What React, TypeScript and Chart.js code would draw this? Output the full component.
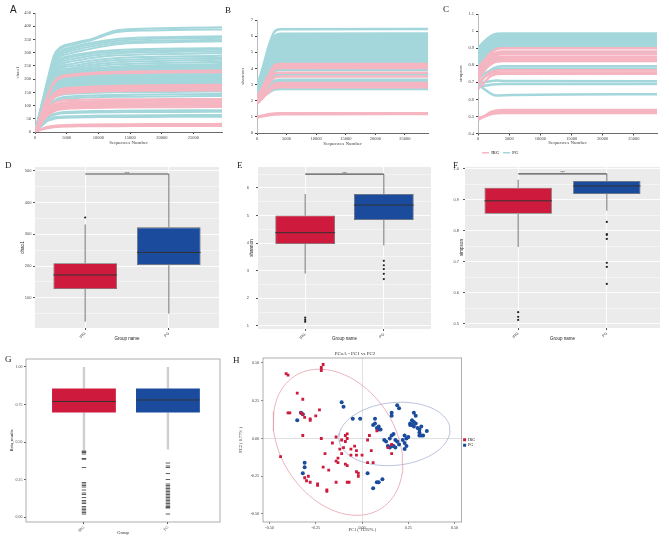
import React, { useEffect, useRef } from "react";
import { Chart, registerables } from "chart.js";
Chart.register(...registerables);

const SERIF = "'Liberation Serif', 'DejaVu Serif', serif";
const SANS = "'Liberation Sans', 'DejaVu Sans', sans-serif";
const PINK = "#F5B5C1";
const TEAL = "#A4D7DB";
const RED = "#CE1B3D";
const BLUE = "#1A4B9D";
const GROUPS = ["IRG", "PG"];

// ---------- A : chao1 rarefaction ----------
const A_DEPTH = [0, 1000, 2000, 3000, 4000, 6000, 9000, 13000, 18000, 24000, 29500];
const A_X_TICKS = [0, 5000, 10000, 15000, 20000, 25000];
const A_Y_TICKS = [0, 50, 100, 150, 200, 250, 300, 350, 400, 450];
const A_PG = [
  [0, 100, 200, 290, 320, 336, 352, 385, 391, 394, 396],
  [0, 98, 195, 283, 314, 330, 348, 378, 384, 387, 388],
  [0, 96, 190, 275, 305, 322, 338, 352, 358, 360, 362],
  [0, 94, 186, 268, 298, 316, 332, 345, 352, 355, 356],
  [0, 92, 182, 262, 292, 308, 324, 338, 344, 347, 348],
  [0, 90, 178, 256, 285, 300, 316, 332, 338, 341, 343],
  [0, 88, 174, 248, 276, 290, 302, 310, 314, 316, 317],
  [0, 86, 170, 242, 270, 284, 296, 304, 308, 310, 311],
  [0, 84, 166, 236, 262, 276, 288, 298, 302, 304, 305],
  [0, 82, 162, 228, 254, 268, 280, 290, 294, 296, 298],
  [0, 80, 158, 222, 246, 258, 270, 280, 284, 286, 288],
  [0, 78, 154, 216, 240, 250, 262, 272, 276, 279, 280],
  [0, 76, 150, 210, 232, 242, 254, 264, 268, 271, 273],
  [0, 74, 146, 204, 226, 236, 247, 256, 260, 263, 265],
  [0, 45, 90, 118, 130, 135, 138, 140, 142, 143, 144],
  [0, 42, 85, 112, 124, 128, 131, 133, 134, 135, 136],
  [0, 30, 55, 68, 74, 77, 79, 80, 81, 82, 82],
  [0, 28, 52, 64, 70, 72, 74, 75, 76, 76, 77],
  [0, 25, 45, 55, 58, 60, 61, 62, 63, 64, 64],
  [0, 22, 42, 50, 53, 55, 56, 57, 57, 58, 58],
];
const A_PG_BAND_HIGH = [0, 72, 142, 198, 220, 230, 240, 248, 252, 255, 257];
const A_PG_BAND_LOW = [0, 50, 100, 130, 140, 145, 148, 150, 151, 152, 153];
const A_IRG = [
  [0, 70, 140, 190, 210, 218, 224, 228, 230, 232, 233],
  [0, 68, 135, 184, 204, 212, 218, 222, 224, 226, 226],
  [0, 60, 115, 148, 162, 168, 172, 175, 177, 178, 179],
  [0, 58, 112, 144, 158, 164, 168, 171, 172, 173, 174],
  [0, 56, 108, 140, 153, 159, 163, 166, 167, 168, 168],
  [0, 54, 104, 135, 147, 153, 157, 160, 161, 162, 162],
  [0, 52, 100, 130, 142, 148, 152, 155, 156, 157, 157],
  [0, 45, 88, 110, 118, 121, 123, 124, 124, 125, 125],
  [0, 42, 82, 102, 110, 114, 116, 118, 119, 120, 120],
  [0, 40, 78, 97, 105, 109, 111, 113, 114, 115, 115],
  [0, 38, 74, 93, 100, 104, 106, 108, 109, 110, 110],
  [0, 36, 70, 88, 95, 99, 101, 103, 104, 105, 105],
  [0, 34, 66, 83, 90, 94, 96, 98, 99, 100, 100],
  [0, 32, 62, 78, 85, 89, 91, 93, 94, 94, 95],
  [0, 12, 20, 24, 26, 27, 28, 29, 30, 30, 31],
  [0, 10, 17, 21, 23, 24, 25, 26, 26, 27, 27],
  [0, 8, 14, 18, 20, 21, 22, 22, 23, 23, 23],
];

// ---------- B : shannon rarefaction ----------
const B_DEPTH = [0, 1000, 2000, 3000, 4000, 28900];
const B_X_TICKS = [0, 5000, 10000, 15000, 20000, 25000];
const B_Y_TICKS = [0, 1, 2, 3, 4, 5, 6, 7];
const B_PG = [
  [2.9, 4.1, 5.4, 6.3, 6.42, 6.45],
  [2.2, 2.8, 3.4, 3.85, 3.9, 3.91],
  [2.2, 2.7, 3.2, 3.58, 3.62, 3.62],
  [2.3, 2.6, 2.95, 3.25, 3.3, 3.3],
  [2.1, 2.5, 2.85, 3.15, 3.2, 3.2],
  [2.2, 2.4, 2.65, 2.87, 2.9, 2.9],
  [2.0, 2.25, 2.5, 2.7, 2.72, 2.72],
];
const B_PG_BAND_HIGH = [2.8, 3.9, 5.1, 6.0, 6.15, 6.17];
const B_PG_BAND_LOW = [2.4, 3.1, 3.8, 4.26, 4.32, 4.32];
const B_IRG = [
  [2.2, 2.9, 3.6, 4.2, 4.27, 4.28],
  [2.1, 2.8, 3.5, 4.08, 4.14, 4.15],
  [2.0, 2.7, 3.4, 3.96, 4.02, 4.03],
  [2.1, 2.7, 3.3, 3.7, 3.74, 3.74],
  [2.0, 2.5, 3.05, 3.45, 3.5, 3.5],
  [1.9, 2.3, 2.7, 3.05, 3.09, 3.09],
  [1.8, 2.2, 2.6, 2.93, 2.98, 2.98],
  [1.85, 2.2, 2.55, 2.8, 2.84, 2.84],
  [1.0, 1.08, 1.16, 1.21, 1.22, 1.23],
  [0.97, 1.04, 1.1, 1.15, 1.16, 1.17],
];

// ---------- C : simpson rarefaction ----------
const C_DEPTH = [0, 1000, 2000, 3000, 4000, 28700];
const C_X_TICKS = [0, 5000, 10000, 15000, 20000, 25000];
const C_Y_TICKS = [0.4, 0.5, 0.6, 0.7, 0.8, 0.9, 1, 1.1];
const C_PG = [
  [0.76, 0.81, 0.85, 0.868, 0.87, 0.87],
  [0.75, 0.79, 0.82, 0.838, 0.84, 0.84],
  [0.68, 0.73, 0.77, 0.79, 0.794, 0.794],
  [0.72, 0.75, 0.77, 0.778, 0.78, 0.78],
  [0.69, 0.7, 0.706, 0.71, 0.708, 0.706],
  [0.67, 0.68, 0.685, 0.688, 0.69, 0.69],
  [0.69, 0.66, 0.635, 0.622, 0.624, 0.63],
];
const C_PG_BAND_HIGH = [0.9, 0.94, 0.97, 0.985, 0.986, 0.986];
const C_PG_BAND_LOW = [0.8, 0.84, 0.88, 0.905, 0.908, 0.908];
const C_IRG = [
  [0.78, 0.83, 0.87, 0.895, 0.9, 0.9],
  [0.76, 0.81, 0.855, 0.875, 0.88, 0.88],
  [0.75, 0.8, 0.84, 0.86, 0.865, 0.865],
  [0.74, 0.79, 0.83, 0.848, 0.85, 0.85],
  [0.73, 0.78, 0.815, 0.832, 0.835, 0.835],
  [0.72, 0.77, 0.805, 0.822, 0.825, 0.825],
  [0.69, 0.73, 0.76, 0.768, 0.77, 0.77],
  [0.7, 0.73, 0.75, 0.756, 0.758, 0.758],
  [0.66, 0.7, 0.735, 0.748, 0.75, 0.75],
  [0.48, 0.5, 0.525, 0.535, 0.537, 0.538],
  [0.485, 0.5, 0.515, 0.525, 0.527, 0.527],
  [0.49, 0.5, 0.512, 0.518, 0.52, 0.52],
];

// ---------- D/E/F : alpha boxplots  [lower whisker, Q1, median, Q3, upper whisker] ----------
const D_IRG_STATS = [25, 128, 172, 209, 331];
const D_PG_STATS = [50, 203, 243, 322, 490];
const D_IRG_OUT = [353];
const D_PG_OUT: number[] = [];
const D_SIG = 490;
const D_Y_TICKS = [50, 100, 150, 200, 250, 300, 350, 400, 450, 500];

const E_IRG_STATS = [2.9, 3.97, 4.38, 5.0, 5.78];
const E_PG_STATS = [3.92, 4.84, 5.38, 5.78, 6.5];
const E_IRG_OUT = [1.3, 1.22, 1.15];
const E_PG_OUT = [3.36, 3.2, 3.06, 2.89, 2.7];
const E_SIG = 6.5;
const E_Y_TICKS = [1, 1.5, 2, 2.5, 3, 3.5, 4, 4.5, 5, 5.5, 6, 6.5];

const F_IRG_STATS = [0.748, 0.855, 0.897, 0.939, 0.965];
const F_PG_STATS = [0.865, 0.919, 0.945, 0.961, 0.984];
const F_IRG_OUT = [0.538, 0.523, 0.513];
const F_PG_OUT = [0.829, 0.79, 0.787, 0.774, 0.697, 0.684, 0.629];
const F_SIG = 0.984;
const F_Y_TICKS = [0.5, 0.55, 0.6, 0.65, 0.7, 0.75, 0.8, 0.85, 0.9, 0.95, 1.0];

// ---------- G : beta boxplot ----------
const G_IRG_STATS = [0.447, 0.697, 0.77, 0.856, 1.0];
const G_PG_STATS = [0.45, 0.697, 0.78, 0.856, 1.0];
const G_IRG_OUT = [0.44, 0.435, 0.43, 0.42, 0.39, 0.385, 0.33, 0.23, 0.22, 0.21, 0.2, 0.18, 0.16, 0.15, 0.13, 0.11, 0.1, 0.09, 0.07, 0.06, 0.05, 0.04, 0.03, 0.02];
const G_PG_OUT = [0.36, 0.34, 0.33, 0.29, 0.25, 0.22, 0.21, 0.2, 0.19, 0.18, 0.17, 0.16, 0.15, 0.14, 0.13, 0.12, 0.11, 0.1, 0.09, 0.08, 0.07, 0.065, 0.06, 0.02];
const G_Y_TICKS = [0, 0.25, 0.5, 0.75, 1.0];

// ---------- H : PCoA ----------
const H_TICKS = [-0.5, -0.25, 0, 0.25, 0.5];
const H_IRG: [number, number][] = [
  [-0.41, 0.43], [-0.4, 0.42], [-0.22, 0.45], [-0.22, 0.47], [-0.21, 0.49], [-0.35, 0.3], [-0.32, 0.26],
  [-0.4, 0.17], [-0.39, 0.17], [-0.33, 0.17], [-0.32, 0.16], [-0.31, 0.14], [-0.28, 0.13], [-0.28, 0.12],
  [-0.25, 0.15], [-0.23, 0.19], [-0.32, 0.02], [-0.22, 0.0], [-0.44, -0.12], [-0.2, -0.1], [-0.18, -0.21],
  [-0.21, -0.19], [-0.14, 0.01], [-0.16, -0.03], [-0.11, -0.01], [-0.09, 0.02], [-0.08, 0.03], [-0.08, 0.0],
  [-0.09, -0.02], [-0.12, -0.07], [-0.11, -0.1], [-0.13, -0.13], [-0.14, -0.15], [-0.13, -0.16], [-0.09, -0.17],
  [-0.08, -0.18], [-0.06, -0.07], [-0.04, -0.05], [-0.03, -0.08], [-0.06, -0.11], [0.0, -0.11], [-0.08, -0.29],
  [-0.07, -0.29], [-0.14, -0.29], [-0.31, -0.26], [-0.3, -0.28], [-0.29, -0.25], [-0.28, -0.29], [-0.24, -0.31],
  [-0.24, -0.3], [-0.19, -0.34], [-0.19, -0.35], [-0.03, -0.22], [-0.02, -0.23], [-0.02, -0.25], [0.03, -0.01],
  [0.04, 0.02], [0.05, -0.08], [0.06, -0.16], [0.03, -0.16], [0.14, -0.06], [0.16, -0.1], [0.16, -0.04],
  [0.08, 0.05], [-0.1, -0.06], [-0.03, -0.11],
];
const H_PG: [number, number][] = [
  [-0.11, 0.24], [-0.1, 0.21], [-0.33, 0.17], [-0.32, 0.16], [-0.35, 0.12], [-0.05, 0.13], [-0.01, 0.13],
  [0.07, 0.13], [0.07, 0.1], [0.06, 0.09], [0.08, 0.07], [0.09, 0.08], [0.09, 0.06], [0.1, 0.06],
  [0.16, 0.17], [0.16, 0.15], [0.19, 0.22], [0.2, 0.2], [0.12, -0.01], [0.13, -0.02], [0.15, 0.0],
  [0.16, 0.02], [0.17, 0.03], [0.18, -0.01], [0.19, -0.02], [0.14, -0.05], [0.15, -0.06], [0.16, -0.05],
  [0.17, -0.05], [0.18, -0.06], [0.2, -0.04], [0.22, -0.01], [0.23, 0.02], [0.24, 0.0], [0.25, 0.01],
  [0.23, -0.03], [0.24, -0.05], [0.23, -0.07], [0.26, 0.1], [0.26, 0.09], [0.27, 0.12], [0.28, 0.11],
  [0.27, 0.09], [0.28, 0.08], [0.29, 0.1], [0.28, 0.17], [0.29, 0.15], [0.3, 0.07], [0.31, 0.06],
  [0.32, 0.08], [0.31, 0.04], [0.32, 0.02], [0.33, 0.02], [0.31, 0.02], [0.35, 0.05], [-0.31, -0.16],
  [-0.31, -0.19], [-0.32, -0.23], [0.03, -0.23], [0.06, -0.33], [0.08, -0.29], [0.09, -0.29], [0.11, -0.27],
];
// confidence ellipse: [centre PC1, centre PC2, sd PC1, sd PC2, correlation]
const H_IRG_ELLIPSE = [-0.13, -0.025, 0.35, 0.484, -0.29];
const H_PG_ELLIPSE = [0.175, 0.03, 0.3, 0.21, 0.12];

// ---------------------------------------------------------------------------
const BOX_FRAC = 0.76;

function rareConfig(o: any) {
  const pts = (vals: number[]) => vals.map((v, i) => ({ x: o.depth[i], y: v }));
  const line = (vals: number[], color: string) => ({
    data: pts(vals),
    borderColor: color,
    backgroundColor: color,
    borderWidth: o.lineWidth,
    pointRadius: 0,
    fill: false,
    cubicInterpolationMode: "monotone",
  });
  const datasets: any[] = [
    ...o.irg.map((v: number[]) => line(v, PINK)),
    ...o.pg.map((v: number[]) => line(v, TEAL)),
    { ...line(o.bandHigh, TEAL), fill: "+1" },
    line(o.bandLow, TEAL),
  ];
  const tickFont = { size: 4.5, family: SERIF };
  return {
    type: "line",
    data: { datasets },
    options: {
      animation: false,
      responsive: false,
      devicePixelRatio: 1,
      events: [],
      layout: { padding: o.padding },
      plugins: {
        tooltip: { enabled: false },
        legend: o.legend
          ? {
              display: true,
              position: "bottom",
              align: "start",
              fullSize: false,
              onClick: () => {},
              labels: {
                boxWidth: 7,
                boxHeight: 1.5,
                padding: 4,
                color: "#444",
                font: { size: 4.5, family: SERIF },
                generateLabels: () => [
                  { text: "IRG", fillStyle: PINK, strokeStyle: PINK, lineWidth: 0, hidden: false, datasetIndex: 0 },
                  { text: "PG", fillStyle: TEAL, strokeStyle: TEAL, lineWidth: 0, hidden: false, datasetIndex: 1 },
                ],
              },
            }
          : { display: false },
      },
      scales: {
        x: {
          type: "linear",
          min: 0,
          max: o.xMax,
          afterBuildTicks: (ax: any) => {
            ax.ticks = o.xTicks.map((v: number) => ({ value: v }));
          },
          afterFit: (ax: any) => {
            ax.height = o.xH;
          },
          grid: { drawOnChartArea: false, drawTicks: true, tickLength: 2, tickColor: "#444" },
          border: { display: true, color: "#444", width: 0.8 },
          ticks: { font: tickFont, color: "#444", padding: 1, maxRotation: 0, autoSkip: false, callback: (v: number) => String(v) },
          title: { display: true, text: "Sequences Number", color: "#444", font: { size: 5, family: SERIF }, padding: { top: 0, bottom: o.xTitlePad } },
        },
        y: {
          type: "linear",
          min: o.yMin,
          max: o.yMax,
          afterBuildTicks: (ax: any) => {
            ax.ticks = o.yTicks.map((v: number) => ({ value: v }));
          },
          afterFit: (ax: any) => {
            ax.width = o.yW;
          },
          grid: { drawOnChartArea: false, drawTicks: true, tickLength: 2, tickColor: "#444" },
          border: { display: true, color: "#aaa", width: 0.8, dash: [2, 2] },
          ticks: { font: tickFont, color: "#444", padding: 2, autoSkip: false, callback: (v: number) => String(v) },
          title: { display: true, text: o.yTitle, color: "#444", font: { size: 5, family: SERIF }, padding: { top: o.yTitlePad, bottom: 0 } },
        },
      },
    },
  };
}

const isMajor = (v: number, step: number) => Math.abs(v / step - Math.round(v / step)) < 1e-6;

function boxConfig(o: any) {
  const stats = [o.irgStats, o.pgStats];
  const boxData = stats.map((s: number[], i: number) => ({ x: i + 1, y: [s[1], s[3]] }));
  const outData = [o.irgOut, o.pgOut].flatMap((arr: number[], i: number) => arr.map((v) => ({ x: i + 1, y: v })));
  const half = BOX_FRAC / 2;
  const plugin = {
    id: "boxExtras",
    beforeDraw(chart: any) {
      const { ctx, chartArea: a } = chart;
      ctx.save();
      if (o.panelBg) {
        ctx.fillStyle = o.panelBg;
        ctx.fillRect(a.left, a.top, a.width, a.height);
      }
      ctx.restore();
    },
    beforeDatasetsDraw(chart: any) {
      const { ctx, scales } = chart;
      ctx.save();
      ctx.strokeStyle = o.whiskerColor;
      ctx.lineWidth = o.whiskerWidth;
      stats.forEach((s: number[], i: number) => {
        const x = scales.x.getPixelForValue(i + 1);
        ctx.beginPath();
        ctx.moveTo(x, scales.y.getPixelForValue(s[0]));
        ctx.lineTo(x, scales.y.getPixelForValue(s[1]));
        ctx.moveTo(x, scales.y.getPixelForValue(s[3]));
        ctx.lineTo(x, scales.y.getPixelForValue(s[4]));
        ctx.stroke();
      });
      ctx.restore();
    },
    afterDatasetsDraw(chart: any) {
      const { ctx, scales, chartArea: a } = chart;
      ctx.save();
      ctx.strokeStyle = "#333";
      ctx.lineWidth = 1;
      stats.forEach((s: number[], i: number) => {
        const y = scales.y.getPixelForValue(s[2]);
        ctx.beginPath();
        ctx.moveTo(scales.x.getPixelForValue(i + 1 - half), y);
        ctx.lineTo(scales.x.getPixelForValue(i + 1 + half), y);
        ctx.stroke();
      });
      if (o.sig !== undefined) {
        const y = scales.y.getPixelForValue(o.sig);
        ctx.strokeStyle = "#555";
        ctx.lineWidth = 1.2;
        ctx.beginPath();
        ctx.moveTo(scales.x.getPixelForValue(1), y);
        ctx.lineTo(scales.x.getPixelForValue(2), y);
        ctx.stroke();
        ctx.fillStyle = "#333";
        ctx.font = `4px ${SANS}`;
        ctx.textAlign = "center";
        ctx.textBaseline = "bottom";
        ctx.fillText("***", scales.x.getPixelForValue(1.5), y + 1.5);
      }
      if (o.frame) {
        ctx.strokeStyle = o.frame;
        ctx.lineWidth = 0.8;
        ctx.strokeRect(a.left, a.top, a.width, a.height);
      }
      ctx.restore();
    },
  };
  const tickFont = { size: 4, family: o.font };
  return {
    type: "bar",
    data: {
      datasets: [
        {
          type: "scatter",
          data: outData,
          pointStyle: o.outStyle,
          pointRadius: o.outRadius,
          backgroundColor: "#222",
          borderColor: "#333",
          borderWidth: o.outStyle === "line" ? 0.8 : 0,
          order: 0,
        },
        {
          type: "bar",
          data: boxData,
          backgroundColor: [RED, BLUE],
          borderColor: o.boxBorder,
          borderWidth: o.boxBorderWidth,
          borderSkipped: false,
          barPercentage: BOX_FRAC,
          categoryPercentage: 1,
          order: 1,
        },
      ],
    },
    options: {
      animation: false,
      responsive: false,
      devicePixelRatio: 1,
      events: [],
      layout: { padding: o.padding },
      plugins: { legend: { display: false }, tooltip: { enabled: false } },
      scales: {
        x: {
          type: "linear",
          min: o.xMin,
          max: o.xMax,
          offset: false,
          afterBuildTicks: (ax: any) => {
            ax.ticks = [{ value: 1 }, { value: 2 }];
          },
          afterFit: (ax: any) => {
            ax.height = o.xH;
          },
          grid: {
            display: true,
            offset: false,
            drawOnChartArea: o.gridColor !== null,
            color: o.gridColor || "transparent",
            lineWidth: 0.9,
            tickLength: 2,
            tickColor: "#444",
          },
          border: { display: false },
          ticks: { font: tickFont, color: "#4d4d4d", padding: 1, minRotation: 45, maxRotation: 45, autoSkip: false, callback: (v: number) => GROUPS[Math.round(v) - 1] },
          title: { display: true, text: o.xTitle, color: "#222", font: { size: 4.5, family: o.font }, padding: { top: 0, bottom: o.xTitlePad } },
        },
        y: {
          type: "linear",
          min: o.yMin,
          max: o.yMax,
          afterBuildTicks: (ax: any) => {
            ax.ticks = o.yTicks.map((v: number) => ({ value: v }));
          },
          afterFit: (ax: any) => {
            ax.width = o.yW;
          },
          grid: {
            display: true,
            drawOnChartArea: o.gridColor !== null,
            color: o.gridColor || "transparent",
            lineWidth: (c: any) => (c.tick && isMajor(c.tick.value, o.yMajor) ? 0.9 : 0.45),
            tickLength: 2,
            tickColor: (c: any) => (c.tick && isMajor(c.tick.value, o.yMajor) ? "#444" : "transparent"),
          },
          border: { display: false },
          ticks: {
            font: tickFont,
            color: "#4d4d4d",
            padding: o.yTickPad,
            autoSkip: false,
            callback: (v: number) => (isMajor(v, o.yMajor) ? o.fmt(v) : ""),
          },
          title: { display: true, text: o.yTitle, color: "#222", font: { size: 4.5, family: o.font }, padding: { top: o.yTitlePad, bottom: 0 } },
        },
      },
    },
    plugins: [plugin],
  };
}

function ellipsePoints(e: number[]) {
  const [cx, cy, sx, sy, r] = e;
  const k = Math.sqrt(1 - r * r);
  const pts = [];
  for (let i = 0; i <= 90; i++) {
    const t = (i / 90) * Math.PI * 2;
    pts.push({ x: cx + sx * Math.cos(t), y: cy + sy * (r * Math.cos(t) + k * Math.sin(t)) });
  }
  return pts;
}

function pcoaConfig() {
  const tickFont = { size: 4, family: SERIF };
  const frame = {
    id: "frame",
    afterDatasetsDraw(chart: any) {
      const { ctx, chartArea: a } = chart;
      ctx.save();
      ctx.strokeStyle = "#9a9a9a";
      ctx.lineWidth = 0.8;
      ctx.strokeRect(a.left, a.top, a.width, a.height);
      ctx.restore();
    },
  };
  const axis = (title: string, isX: boolean) => ({
    type: "linear",
    min: isX ? -0.535 : -0.553,
    max: isX ? 0.538 : 0.533,
    afterBuildTicks: (ax: any) => {
      ax.ticks = H_TICKS.map((v) => ({ value: v }));
    },
    afterFit: (ax: any) => {
      if (isX) ax.height = 18;
      else ax.width = 38;
    },
    grid: {
      color: (c: any) => (c.tick && c.tick.value === 0 ? "#d4d4d4" : "transparent"),
      lineWidth: 0.7,
      tickLength: 2,
      tickColor: "#555",
    },
    border: { display: false },
    ticks: { font: tickFont, color: "#333", padding: 2, maxRotation: 0, autoSkip: false, callback: (v: number) => v.toFixed(2) },
    title: { display: true, text: title, color: "#333", font: { size: 4.5, family: SERIF }, padding: isX ? { top: 0, bottom: 7 } : { top: 13, bottom: 0 } },
  });
  return {
    type: "scatter",
    data: {
      datasets: [
        { label: "IRG", data: H_IRG.map(([x, y]) => ({ x, y })), pointStyle: "rect", pointRadius: 2, backgroundColor: RED, borderColor: RED, borderWidth: 0 },
        { label: "PG", data: H_PG.map(([x, y]) => ({ x, y })), pointStyle: "circle", pointRadius: 2, backgroundColor: BLUE, borderColor: BLUE, borderWidth: 0 },
        { label: "e1", type: "line", data: ellipsePoints(H_IRG_ELLIPSE), borderColor: "#E6A1AF", borderWidth: 0.8, pointRadius: 0, fill: false, showLine: true },
        { label: "e2", type: "line", data: ellipsePoints(H_PG_ELLIPSE), borderColor: "#AAB3D3", borderWidth: 0.8, pointRadius: 0, fill: false, showLine: true },
      ],
    },
    options: {
      animation: false,
      responsive: false,
      devicePixelRatio: 1,
      events: [],
      layout: { padding: { left: 0, right: 0, top: 0, bottom: 0 } },
      plugins: {
        tooltip: { enabled: false },
        title: { display: true, text: "PCoA - PC1 vs PC2", color: "#333", font: { size: 5, family: SERIF, weight: "normal" }, padding: { top: 6, bottom: 1 } },
        legend: {
          display: true,
          position: "right",
          onClick: () => {},
          labels: {
            boxWidth: 3,
            boxHeight: 3,
            padding: 1.5,
            color: "#333",
            font: { size: 4, family: SERIF },
            filter: (item: any) => item.datasetIndex < 2,
            generateLabels: () => [
              { text: "IRG", fillStyle: RED, strokeStyle: RED, lineWidth: 0, hidden: false, datasetIndex: 0 },
              { text: "PG", fillStyle: BLUE, strokeStyle: BLUE, lineWidth: 0, hidden: false, datasetIndex: 1 },
            ],
          },
        },
      },
      scales: { x: axis("PC1 ( 11.92% )", true), y: axis("PC2 ( 6.77% )", false) },
    },
    plugins: [frame],
  };
}

function ChartCanvas(props: { left: number; top: number; width: number; height: number; build: () => any }) {
  const ref = useRef<HTMLCanvasElement | null>(null);
  useEffect(() => {
    const chart = new Chart(ref.current as HTMLCanvasElement, props.build());
    return () => chart.destroy();
  }, []);
  return (
    <canvas
      ref={ref}
      width={props.width}
      height={props.height}
      style={{ position: "absolute", left: props.left, top: props.top, width: props.width, height: props.height }}
    />
  );
}

function Letter(props: { text: string; left: number; top: number; sans?: boolean }) {
  return (
    <div
      style={{
        position: "absolute",
        left: props.left,
        top: props.top,
        fontFamily: props.sans ? SANS : SERIF,
        fontSize: props.sans ? 10 : 9,
        lineHeight: 1,
        color: "#222",
      }}
    >
      {props.text}
    </div>
  );
}

const ggBox = {
  panelBg: "#EBEBEB",
  gridColor: "#FFFFFF",
  whiskerColor: "#666",
  whiskerWidth: 0.9,
  boxBorder: "#666",
  boxBorderWidth: 0.8,
  outStyle: "circle",
  outRadius: 1.1,
  font: SANS,
  xMin: 0.4,
  xMax: 2.6,
  xTitle: "Group name",
  xTitlePad: 4,
  yTitlePad: 9,
  yTickPad: 1.5,
  frame: null,
};

export default function App() {
  return (
    <div style={{ position: "fixed", left: 0, top: 0, width: 669, height: 540, background: "#fff", overflow: "hidden" }}>
      <ChartCanvas
        left={0}
        top={0}
        width={225}
        height={150}
        build={() =>
          rareConfig({
            depth: A_DEPTH, irg: A_IRG, pg: A_PG, bandHigh: A_PG_BAND_HIGH, bandLow: A_PG_BAND_LOW,
            xMax: 29500, xTicks: A_X_TICKS, yMin: 0, yMax: 450, yTicks: A_Y_TICKS, yTitle: "chao1",
            lineWidth: 2, yW: 35, xH: 18, xTitlePad: 4, yTitlePad: 15, padding: { left: 0, right: 3, top: 13, bottom: 0 },
          })
        }
      />
      <ChartCanvas
        left={225}
        top={0}
        width={210}
        height={150}
        build={() =>
          rareConfig({
            depth: B_DEPTH, irg: B_IRG, pg: B_PG, bandHigh: B_PG_BAND_HIGH, bandLow: B_PG_BAND_LOW,
            xMax: 28900, xTicks: B_X_TICKS, yMin: 0, yMax: 7, yTicks: B_Y_TICKS, yTitle: "shannon",
            lineWidth: 2.5, yW: 32, xH: 17, xTitlePad: 3, yTitlePad: 15, padding: { left: 0, right: 7, top: 20, bottom: 0 },
          })
        }
      />
      <ChartCanvas
        left={440}
        top={0}
        width={229}
        height={168}
        build={() =>
          rareConfig({
            depth: C_DEPTH, irg: C_IRG, pg: C_PG, bandHigh: C_PG_BAND_HIGH, bandLow: C_PG_BAND_LOW,
            xMax: 28700, xTicks: C_X_TICKS, yMin: 0.4, yMax: 1.1, yTicks: C_Y_TICKS, yTitle: "simpson",
            lineWidth: 2.5, yW: 38, xH: 13, xTitlePad: 1, yTitlePad: 18, legend: true, padding: { left: 0, right: 12, top: 14, bottom: 3 },
          })
        }
      />
      <ChartCanvas
        left={0}
        top={150}
        width={225}
        height={195}
        build={() =>
          boxConfig({
            ...ggBox, irgStats: D_IRG_STATS, pgStats: D_PG_STATS, irgOut: D_IRG_OUT, pgOut: D_PG_OUT, sig: D_SIG,
            yMin: 5, yMax: 512, yTicks: D_Y_TICKS, yMajor: 100, fmt: (v: number) => String(v), yTitle: "chao1",
            yW: 35, xH: 17, yTitlePad: 20, padding: { left: 0, right: 6, top: 17, bottom: 0 },
          })
        }
      />
      <ChartCanvas
        left={225}
        top={150}
        width={215}
        height={195}
        build={() =>
          boxConfig({
            ...ggBox, irgStats: E_IRG_STATS, pgStats: E_PG_STATS, irgOut: E_IRG_OUT, pgOut: E_PG_OUT, sig: E_SIG,
            yMin: 0.89, yMax: 6.76, yTicks: E_Y_TICKS, yMajor: 1, fmt: (v: number) => String(v), yTitle: "shannon",
            yW: 33, xH: 16, yTitlePad: 24.5, yTickPad: 7, padding: { left: 0, right: 9, top: 17, bottom: 0 },
          })
        }
      />
      <ChartCanvas
        left={440}
        top={150}
        width={229}
        height={195}
        build={() =>
          boxConfig({
            ...ggBox, irgStats: F_IRG_STATS, pgStats: F_PG_STATS, irgOut: F_IRG_OUT, pgOut: F_PG_OUT, sig: F_SIG,
            yMin: 0.487, yMax: 1.006, yTicks: F_Y_TICKS, yMajor: 0.1, fmt: (v: number) => v.toFixed(1), yTitle: "simpson",
            yW: 25, xH: 17, yTitlePad: 19, yTickPad: 4, padding: { left: 0, right: 9, top: 17, bottom: 0 },
          })
        }
      />
      <ChartCanvas
        left={0}
        top={345}
        width={225}
        height={195}
        build={() =>
          boxConfig({
            ...ggBox, panelBg: null, gridColor: null, whiskerColor: "#CFCFCF", whiskerWidth: 2.4, boxBorder: "rgba(0,0,0,0)",
            boxBorderWidth: 0, outStyle: "line", outRadius: 2.2, font: SERIF, xMin: 0.31, xMax: 2.62, xTitle: "Group",
            frame: "#9a9a9a", irgStats: G_IRG_STATS, pgStats: G_PG_STATS, irgOut: G_IRG_OUT, pgOut: G_PG_OUT,
            yMin: -0.033, yMax: 1.053, yTicks: G_Y_TICKS, yMajor: 0.25, fmt: (v: number) => v.toFixed(2), yTitle: "Beta_results",
            yW: 26, xH: 18, xTitlePad: 4, yTitlePad: 9, padding: { left: 0, right: 5, top: 14, bottom: 0 },
          })
        }
      />
      <ChartCanvas left={225} top={345} width={260} height={195} build={pcoaConfig} />
      <Letter text="A" left={10} top={5} sans />
      <Letter text="B" left={225} top={6} />
      <Letter text="C" left={443} top={5} />
      <Letter text="D" left={5} top={161} />
      <Letter text="E" left={237} top={161} />
      <Letter text="F" left={453} top={161} />
      <Letter text="G" left={5} top={355} />
      <Letter text="H" left={233} top={356} />
    </div>
  );
}
